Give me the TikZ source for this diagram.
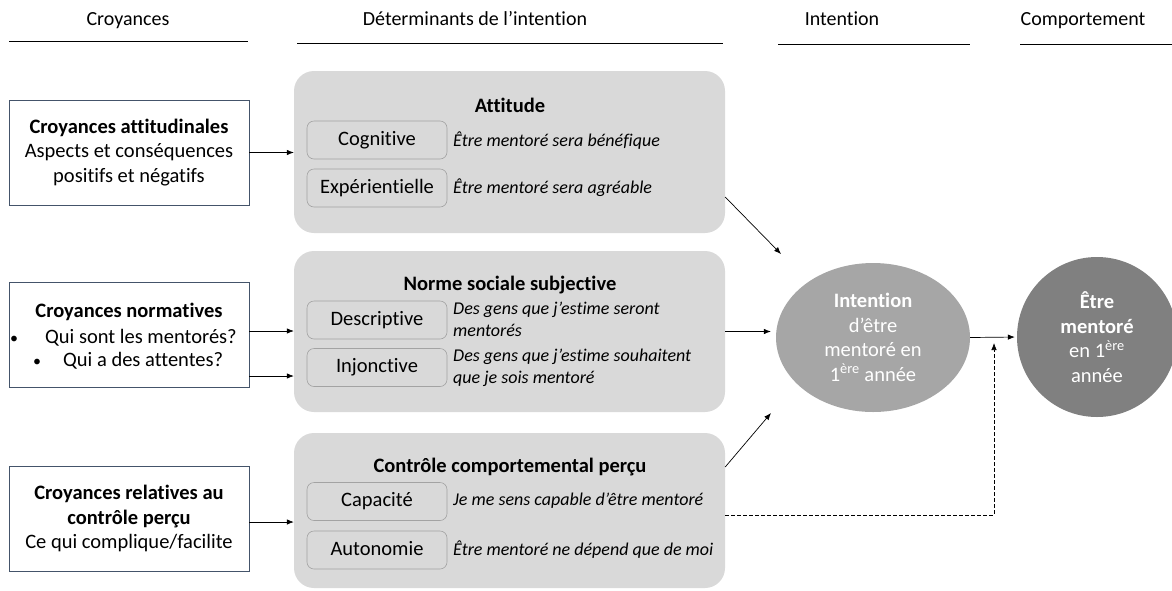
\documentclass[tikz,border=0pt]{standalone}
\usepackage{fontspec}
\setmainfont{Carlito}[RawFeature=-liga]
\usetikzlibrary{arrows.meta,calc,shapes.geometric}
\definecolor{boxgray}{HTML}{D9D9D9}
\definecolor{subedge}{HTML}{A3A3A3}
\definecolor{intgray}{HTML}{A6A6A6}
\definecolor{behgray}{HTML}{808080}
\definecolor{navy}{HTML}{44546A}
\begin{document}
\begin{tikzpicture}[x=1pt,y=-1pt,
 hdr/.style={font=\fontsize{20}{24}\selectfont, inner sep=0, anchor=base},
 belief/.style={draw=navy, line width=0.8pt, minimum width=240pt, minimum height=105pt, inner sep=0, align=center, font=\fontsize{20.5}{24.5}\selectfont},
 det/.style={fill=boxgray, rounded corners=20pt, minimum width=431pt, inner sep=0},
 subbox/.style={draw=subedge, line width=0.6pt, fill=boxgray, rounded corners=7pt, minimum width=140pt, minimum height=38pt, inner sep=0, text height=14pt, text depth=4pt, font=\fontsize{20.5}{24}\selectfont},
 expl/.style={anchor=west, font=\fontsize{18}{22}\selectfont\itshape, align=left, inner sep=0},
 ttl/.style={font=\fontsize{20.5}{24}\selectfont\bfseries, inner sep=0},
 txt/.style={font=\fontsize{20.5}{24}\selectfont, inner sep=0},
 arr/.style={-{Latex[length=7pt,width=5.5pt]}, line width=0.7pt}
]
\useasboundingbox (0,0) rectangle (1172,590);

% headers
\node[hdr] (h1) at (128,25) {Croyances};
\node[hdr] (h2) at (475,25) {Déterminants de l’intention};
\node[hdr] (h3) at (842,25) {Intention};
\node[hdr] (h4) at (1083,25) {Comportement};
\draw[line width=0.8pt] (9,41) -- (248,41);
\draw[line width=0.8pt] (297,43) -- (723,43);
\draw[line width=0.8pt] (778,44) -- (970,44);
\draw[line width=0.8pt] (1020,44) -- (1172,44);

% belief boxes
\node[belief] (b1) at (129,152.5) {\textbf{Croyances attitudinales}\\Aspects et conséquences\\positifs et négatifs};
\node[belief] (b2) at (129,335) {};
\node[ttl] (b2t) at (129,312) {Croyances normatives};
\node[txt, anchor=west] (b2a) at (10,338) {{\fontsize{16}{16}\selectfont•}\hspace{27pt}Qui sont les mentorés?};
\node[txt, anchor=west] (b2b) at (33,361) {{\fontsize{16}{16}\selectfont•}\hspace{22pt}Qui a des attentes?};
\node[belief] (b3) at (129,518.5) {\textbf{Croyances relatives au}\\\textbf{contrôle perçu}\\Ce qui complique/facilite};

% determinant boxes
\node[det, minimum height=162pt] (A) at (509.5,152) {};
\node[det, minimum height=161pt] (N) at (509.5,331.5) {};
\node[det, minimum height=155pt] (C) at (509.5,510.5) {};

\node[ttl] (At) at (510,105) {Attitude};
\node[subbox] (s1) at (377,140) {Cognitive};
\node[subbox] (s2) at (377,188) {Expérientielle};
\node[expl] (e1) at (453,141) {Être mentoré sera bénéfique};
\node[expl] (e2) at (453,188) {Être mentoré sera agréable};

\node[ttl] (Nt) at (510,285) {Norme sociale subjective};
\node[subbox] (s3) at (377,320) {Descriptive};
\node[subbox] (s4) at (377,367.5) {Injonctive};
\node[expl] (e3) at (453,319) {Des gens que j’estime seront\\mentorés};
\node[expl] (e4) at (453,367.5) {Des gens que j’estime souhaitent\\que je sois mentoré};

\node[ttl] (Ct) at (510,467) {Contrôle comportemental perçu};
\node[subbox] (s5) at (377,501.5) {Capacité};
\node[subbox] (s6) at (377,550) {Autonomie};
\node[expl] (e5) at (453,501) {Je me sens capable d’être mentoré};
\node[expl] (e6) at (453,550) {Être mentoré ne dépend que de moi};

% intention and behaviour
\node[ellipse, fill=intgray, minimum width=194pt, minimum height=149pt, inner sep=0, align=center, text=white, font=\fontsize{20.5}{24.5}\selectfont] (I) at (873,337.5) {\textbf{Intention}\\d’être\\mentoré en\\1\textsuperscript{ère} année};
\node[circle, fill=behgray, minimum size=160pt, inner sep=0, align=center, text=white, font=\fontsize{20.5}{24.5}\selectfont] (E) at (1097,337) {\textbf{Être}\\\textbf{mentoré}\\en 1\textsuperscript{ère}\\année};

% connectors
\draw[arr] (b1.east) -- (b1.east -| A.west);
\draw[arr] ([yshift=4pt]b2.east) -- ([yshift=4pt]b2.east -| N.west);
\draw[arr] ([yshift=-41pt]b2.east) -- ([yshift=-41pt]b2.east -| N.west);
\draw[arr] ([yshift=-3.5pt]b3.east) -- ([yshift=-3.5pt]b3.east -| C.west);

\coordinate (aEnd) at (781,254);
\coordinate (cEnd) at (771,413);
\coordinate (dTurn) at (994,515);
\coordinate (dEnd) at (994,343);
\draw[arr] ([yshift=-45pt]A.east) -- (aEnd);
\draw[arr, shorten >=5pt] (N.east) -- (N.east -| I.west);
\draw[arr] ([yshift=43.5pt]C.east) -- (cEnd);
\draw[arr, shorten >=2pt] (I.east) -- (E.west);
\draw[arr, dash pattern=on 4pt off 2pt] ([yshift=-4.5pt]C.east) -- (dTurn) -- (dEnd);
\end{tikzpicture}
\end{document}
